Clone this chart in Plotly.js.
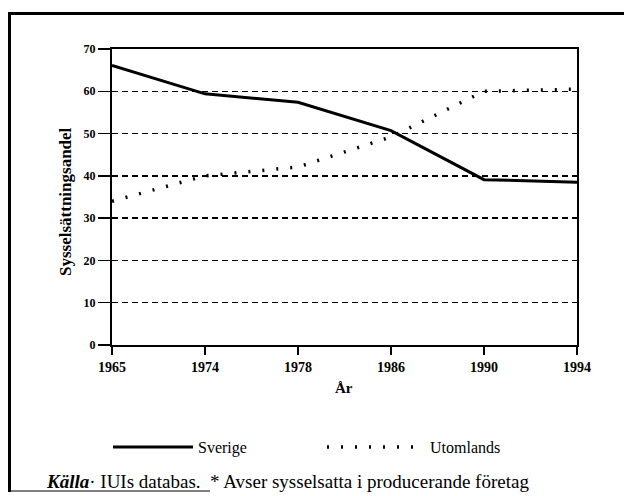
<!DOCTYPE html>
<html>
<head>
<meta charset="utf-8">
<script src="https://cdn.plot.ly/plotly-3.0.1.min.js"></script>
<style>html,body{margin:0;padding:0;background:#fff;}#chart{width:624px;height:496px;}</style>
</head>
<body>
<div id="chart"></div>
<script>
const years = ["1965", "1974", "1978", "1986", "1990", "1994"];
const sverige = [66.1, 59.4, 57.4, 50.7, 39.1, 38.5];
const utomlands = [34.0, 40.0, 42.1, 49.2, 60.0, 60.5];
const seriesNames = ["Sverige", "Utomlands"];
const yTicks = [0, 10, 20, 30, 40, 50, 60, 70];

const serif = "Liberation Serif, Times New Roman, serif";

const traces = [
  {
    x: years, y: sverige, name: seriesNames[0], type: "scatter", mode: "lines",
    line: {color: "#000", width: 3}, legend: "legend"
  },
  {
    x: years, y: utomlands, name: seriesNames[1], type: "scatter", mode: "lines",
    line: {color: "#000", width: 3.5, dash: "2px,12px"}, legend: "legend2"
  }
];

const L = 112, W = 465, T = 49, H = 296;
const px = v => (v - L) / W;
const py = v => (T + H - v) / H;

const legendFont = {family: serif, size: 16, color: "#000"};

const layout = {
  width: 624, height: 496,
  margin: {l: L, r: 624 - L - W, t: T, b: 496 - T - H},
  paper_bgcolor: "#fff", plot_bgcolor: "#fff",
  font: {family: serif, color: "#000", size: 12},
  showlegend: true,
  legend: {
    orientation: "h", x: px(108), xanchor: "left", y: py(447), yanchor: "middle",
    font: legendFont, itemwidth: 80, bgcolor: "rgba(0,0,0,0)", borderwidth: 0
  },
  legend2: {
    orientation: "h", x: px(322), xanchor: "left", y: py(447), yanchor: "middle",
    font: legendFont, itemwidth: 98, bgcolor: "rgba(0,0,0,0)", borderwidth: 0
  },
  xaxis: {
    type: "category", tickvals: years, ticktext: years,
    range: [0, years.length - 1],
    showline: true, linecolor: "#000", linewidth: 2, mirror: true,
    ticks: "outside", ticklen: 8, tickcolor: "#000", tickwidth: 1.5,
    showgrid: false, zeroline: false,
    tickfont: {family: serif, size: 14, color: "#000", weight: "bold"}
  },
  yaxis: {
    range: [0, 70], tickvals: yTicks,
    showline: true, linecolor: "#000", linewidth: 2, mirror: true,
    ticks: "outside", ticklen: 12, tickcolor: "#000", tickwidth: 1.5,
    showgrid: true, gridcolor: "#000", gridwidth: 1.5, griddash: "6px,4px",
    zeroline: false,
    tickfont: {family: serif, size: 12, color: "#000", weight: "bold"}
  },
  annotations: [
    {text: "<b>Sysselsättningsandel</b>", xref: "paper", yref: "paper",
     x: px(65), xanchor: "center", y: py(202), yanchor: "middle", textangle: -90, showarrow: false,
     font: {family: serif, size: 17, color: "#000"}},
    {text: "<b>År</b>", xref: "paper", yref: "paper",
     x: px(344), xanchor: "center", y: py(388), yanchor: "middle", showarrow: false,
     font: {family: serif, size: 15, color: "#000"}},
    {text: "<b><i>Källa</i></b>· IUIs databas.  * Avser sysselsatta i producerande företag",
     xref: "paper", yref: "paper", x: px(44), xanchor: "left", y: py(482), yanchor: "middle",
     showarrow: false, font: {family: serif, size: 19, color: "#000"}}
  ],
  shapes: [
    {type: "line", xref: "paper", yref: "paper", x0: px(8), x1: px(624), y0: py(13.5), y1: py(13.5),
     line: {color: "#000", width: 3}},
    {type: "line", xref: "paper", yref: "paper", x0: px(9.5), x1: px(9.5), y0: py(12), y1: py(492),
     line: {color: "#000", width: 3}},
    {type: "line", xref: "paper", yref: "paper", x0: px(8), x1: px(210), y0: py(491), y1: py(491),
     line: {color: "#000", width: 1}}
  ]
};

Plotly.newPlot("chart", traces, layout, {displayModeBar: false, staticPlot: true});
</script>
</body>
</html>
